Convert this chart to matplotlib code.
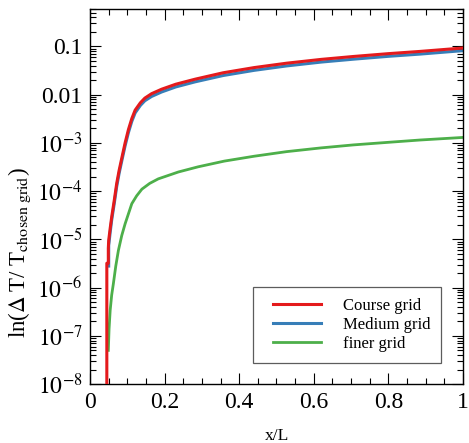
import matplotlib
matplotlib.use("Agg")
import matplotlib.pyplot as plt
from matplotlib.ticker import FixedLocator, LogLocator, MultipleLocator, FuncFormatter, NullFormatter
from matplotlib.legend_handler import HandlerLine2D
import numpy as np

plt.rcParams['font.family'] = ['Liberation Serif', 'DejaVu Serif']
plt.rcParams['mathtext.fontset'] = 'stix'

# Course grid
x_course = [0.045, 0.045, 0.049, 0.049, 0.050, 0.054, 0.058, 0.065, 0.0715, 0.078, 0.085,
            0.094, 0.103, 0.112, 0.121, 0.135, 0.147, 0.165, 0.192, 0.23, 0.282, 0.357,
            0.44, 0.527, 0.62, 0.706, 0.8, 0.885, 1.0]
y_course = [1e-9, 3.2e-6, 3.2e-6, 6.5e-6, 9.5e-6, 1.7e-5, 2.9e-5, 6.5e-5, 1.45e-4, 2.7e-4,
            4.8e-4, 1.0e-3, 1.9e-3, 3.2e-3, 4.8e-3, 6.8e-3, 8.5e-3, 1.05e-2, 1.3e-2, 1.65e-2,
            2.1e-2, 2.85e-2, 3.65e-2, 4.5e-2, 5.4e-2, 6.2e-2, 7.1e-2, 7.9e-2, 9.3e-2]

# Medium grid
x_medium = [0.050, 0.050, 0.054, 0.058, 0.065, 0.0715, 0.078, 0.085,
            0.094, 0.103, 0.112, 0.121, 0.135, 0.147, 0.165, 0.192, 0.23, 0.282, 0.357,
            0.44, 0.527, 0.62, 0.706, 0.8, 0.885, 1.0]
y_medium = [2.8e-6, 7.5e-6, 1.4e-5, 2.5e-5, 5.6e-5, 1.25e-4, 2.35e-4,
            4.2e-4, 0.87e-3, 1.65e-3, 2.8e-3, 4.2e-3, 6.0e-3, 7.5e-3, 9.2e-3, 1.14e-2, 1.45e-2,
            1.85e-2, 2.5e-2, 3.2e-2, 3.95e-2, 4.75e-2, 5.45e-2, 6.25e-2, 6.95e-2, 8.2e-2]

# finer grid
x_fine = [0.049, 0.051, 0.054, 0.058, 0.0625, 0.069, 0.076, 0.085, 0.094, 0.103, 0.112,
          0.125, 0.139, 0.16, 0.183, 0.237, 0.29, 0.36, 0.44, 0.527, 0.62, 0.706, 0.8,
          0.885, 1.0]
y_fine = [5e-8, 1.4e-7, 3.4e-7, 7e-7, 1.2e-6, 2.8e-6, 5.9e-6, 1.2e-5, 2.1e-5, 3.4e-5, 5.5e-5,
          8e-5, 1.1e-4, 1.45e-4, 1.8e-4, 2.5e-4, 3.2e-4, 4.2e-4, 5.3e-4, 6.6e-4, 7.9e-4,
          9.1e-4, 1.03e-3, 1.15e-3, 1.3e-3]

labels = ['Course grid', 'Medium grid', 'finer grid']
colors = ['#e41a1c', '#377eb8', '#4daf4a']

fig = plt.figure(figsize=(4.69, 4.43), dpi=100)
ax = fig.add_axes([0.192, 0.133, 0.795, 0.847])

ax.plot(x_medium, y_medium, color=colors[1], lw=2.2, label=labels[1], zorder=2)
ax.plot(x_course, y_course, color=colors[0], lw=2.2, label=labels[0], zorder=3)
ax.plot(x_fine, y_fine, color=colors[2], lw=2.0, label=labels[2], zorder=2)

ax.set_yscale('log')
ax.set_xlim(0, 1)
ax.set_ylim(1e-8, 10**-0.22)

ax.xaxis.set_major_locator(MultipleLocator(0.2))
ax.xaxis.set_minor_locator(MultipleLocator(0.05))
ax.xaxis.set_major_formatter(FuncFormatter(lambda v, p: '0' if abs(v) < 1e-9 else ('1' if abs(v-1) < 1e-9 else f'{v:.1f}')))

ax.yaxis.set_major_locator(FixedLocator([1e-8, 1e-7, 1e-6, 1e-5, 1e-4, 1e-3, 1e-2, 1e-1]))
ax.yaxis.set_minor_locator(LogLocator(base=10, subs=np.arange(2, 10), numticks=20))
ax.yaxis.set_minor_formatter(NullFormatter())

def yfmt(v, p):
    e = int(round(np.log10(v)))
    if e == -1:
        return '0.1'
    if e == -2:
        return '0.01'
    return r'$10^{%d}$' % e
ax.yaxis.set_major_formatter(FuncFormatter(yfmt))

ax.tick_params(which='both', direction='in', top=True, right=True, labelsize=17, width=0.8)
ax.tick_params(which='major', length=8, pad=5.5)
ax.tick_params(which='minor', length=4.5)
for s in ax.spines.values():
    s.set_linewidth(1.0)

ax.set_xlabel('x/L', fontsize=12.5, labelpad=11)
ax.set_ylabel(r'ln($\Delta\;$T/ T$_{\mathrm{chosen\ grid}}$)', fontsize=16.5)
ax.yaxis.set_label_coords(-0.153, 0.35)

handles, labs = ax.get_legend_handles_labels()
order = [labs.index(l) for l in labels]
leg = ax.legend([handles[i] for i in order], [labs[i] for i in order],
                loc='lower right', bbox_to_anchor=(0.942, 0.056), fontsize=12,
                frameon=True, fancybox=False, edgecolor='#333333', handlelength=3.45,
                handletextpad=1.3, borderpad=0.65, labelspacing=0.2, borderaxespad=0,
                handler_map={matplotlib.lines.Line2D: HandlerLine2D(xpad=0.55)})
leg.get_frame().set_linewidth(0.9)

fig.savefig('out.png', dpi=100)
